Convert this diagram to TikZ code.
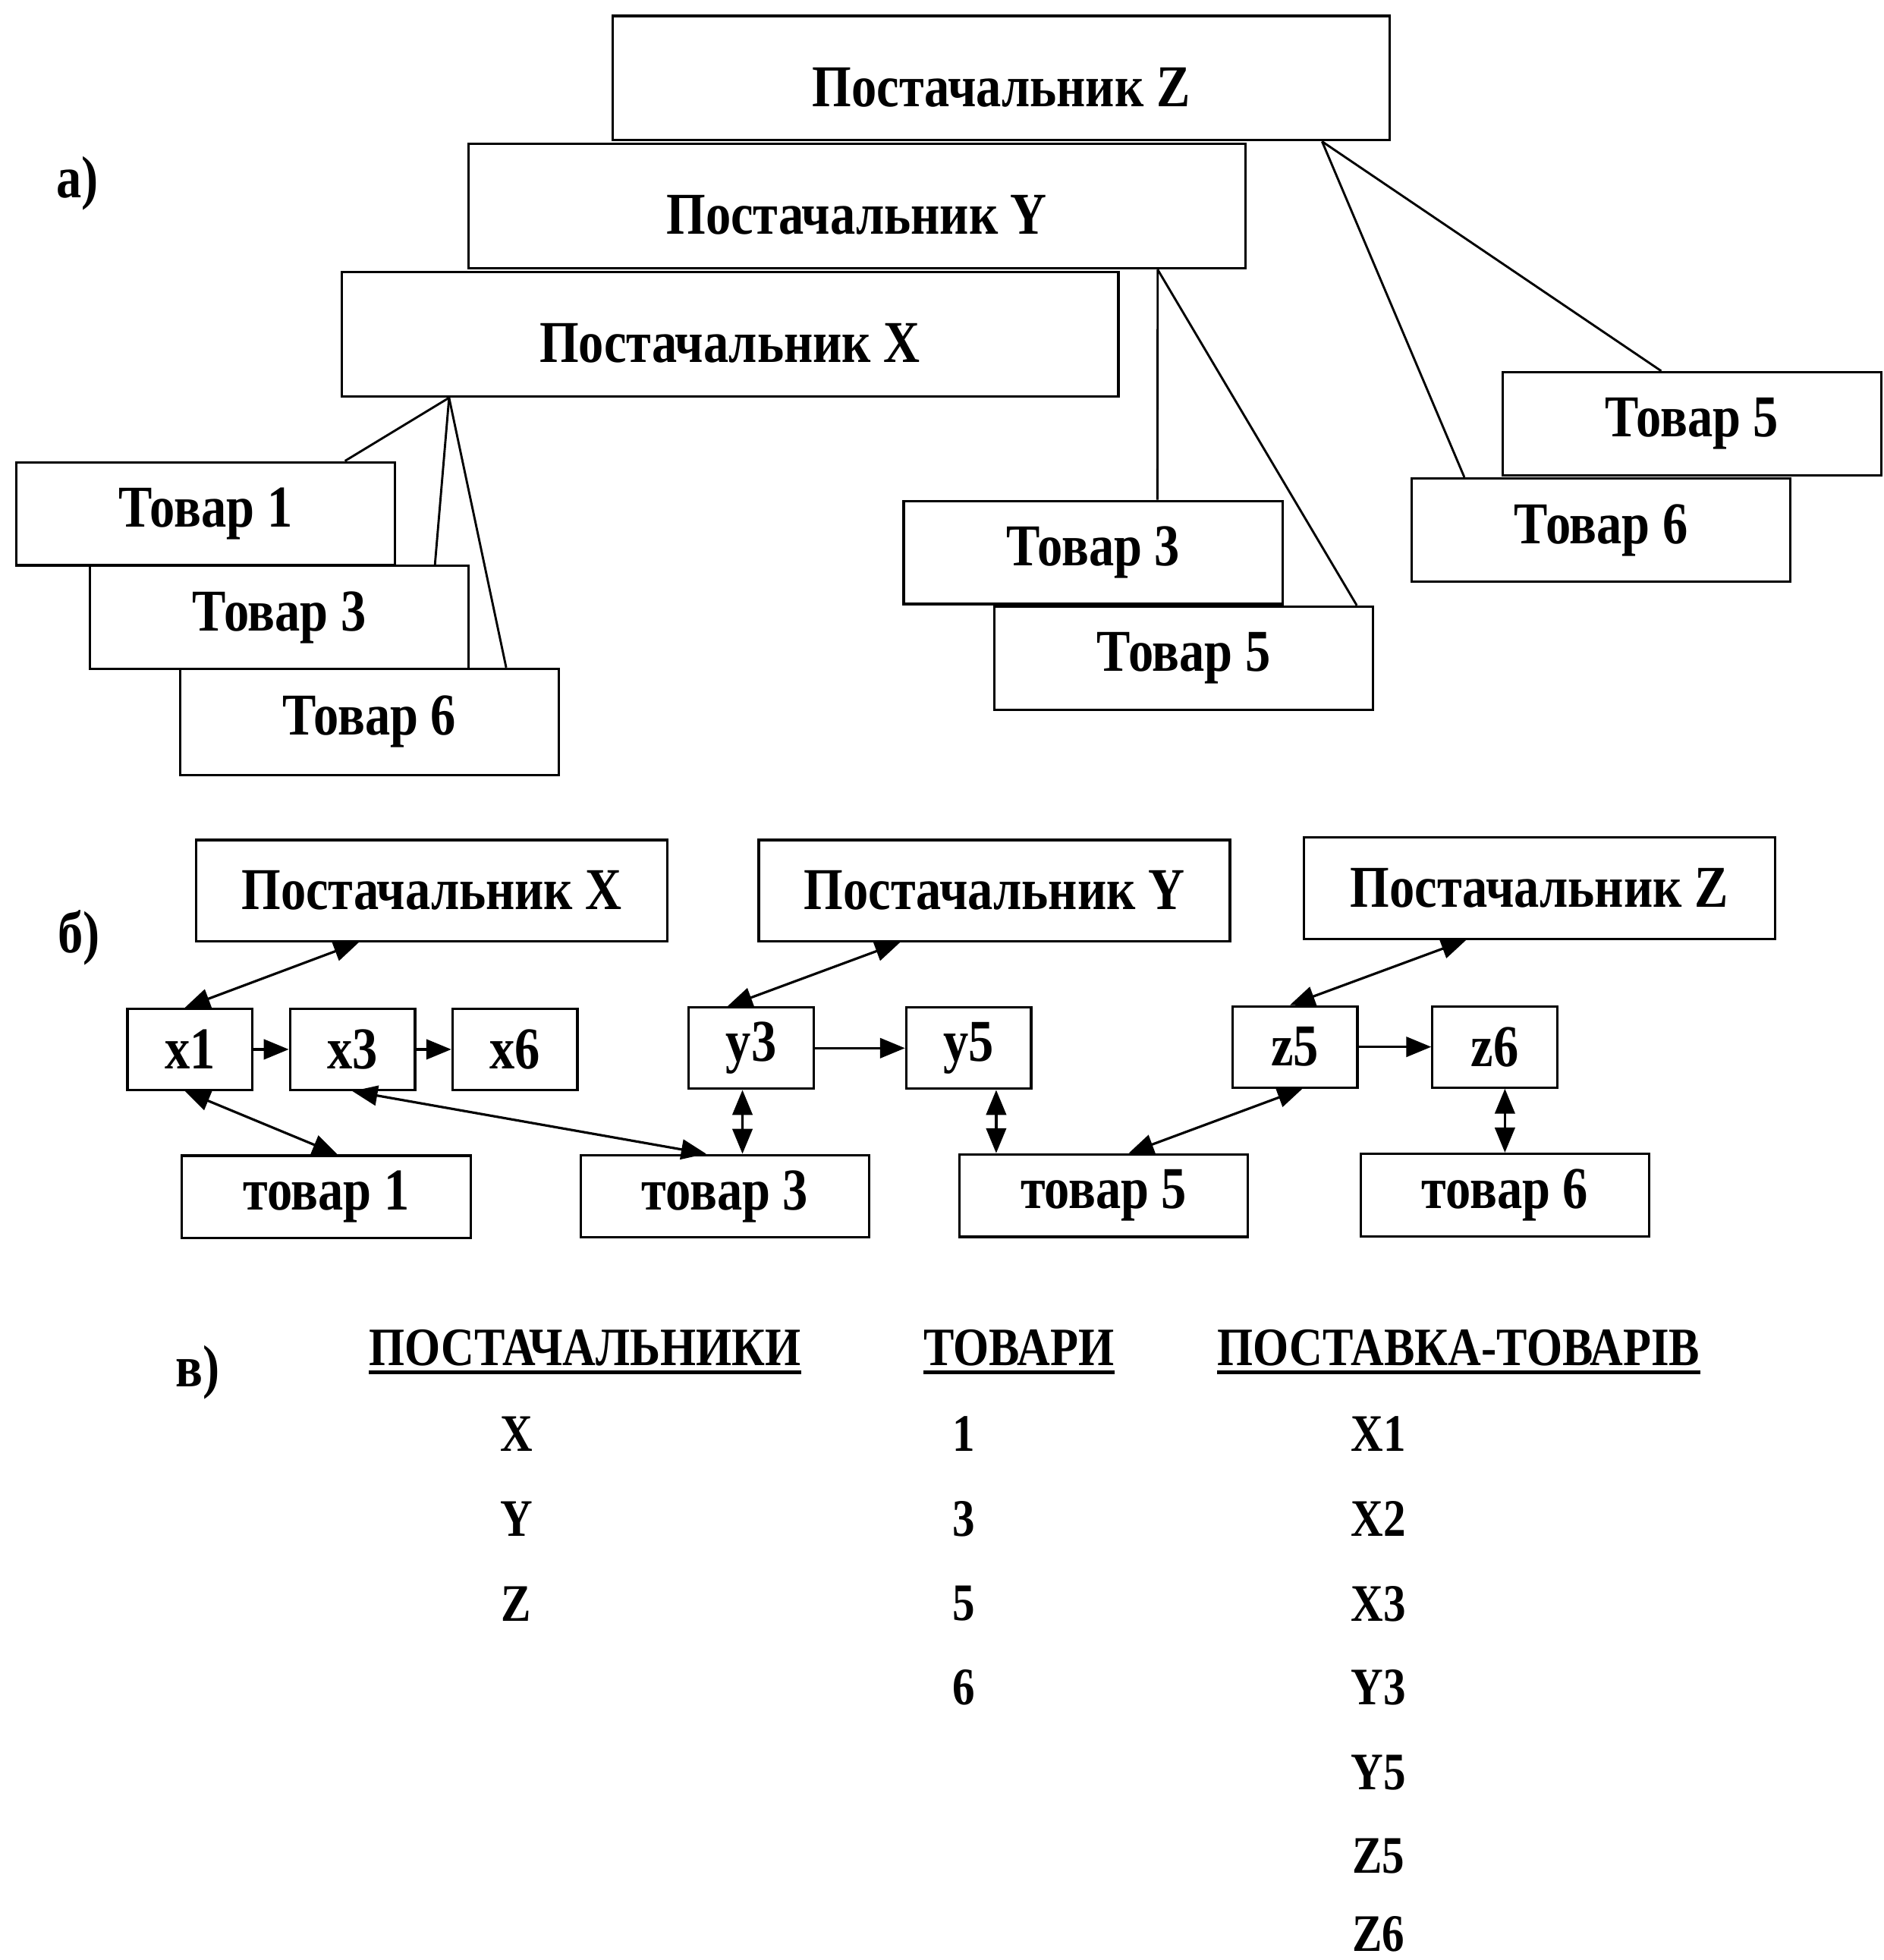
\documentclass[tikz,border=0pt]{standalone}
\usepackage{fontspec}
\setmainfont{Liberation Serif}[FakeStretch=0.85]
\usetikzlibrary{arrows.meta,calc}
\begin{document}
\begin{tikzpicture}[
  box/.style={draw, fill=white, line width=1.1pt, inner sep=0pt, font=\bfseries\fontsize{27}{30}\selectfont},
  bigbox/.style={box, minimum width=12.43cm, minimum height=1.99cm, text height=0.9cm, text depth=0pt},
  goodbox/.style={box, minimum width=6.06cm, minimum height=1.65cm},
  supbox/.style={box, minimum width=7.54cm, minimum height=1.62cm},
  cellbox/.style={box, minimum width=2cm, minimum height=1.3cm},
  itembox/.style={box, minimum width=4.62cm, minimum height=1.32cm},
  link/.style={line width=1pt},
  tip/.style={line width=1.1pt, -{Triangle[length=0.4cm,width=0.32cm]}},
  twoway/.style={line width=1.1pt, {Triangle[length=0.4cm,width=0.32cm]}-{Triangle[length=0.4cm,width=0.32cm]}},
  part/.style={font=\bfseries\fontsize{27}{30}\selectfont},
  head/.style={font=\bfseries\fontsize{24.6}{28}\selectfont, inner sep=0pt},
  cell/.style={font=\bfseries\fontsize{24}{28}\selectfont, inner sep=0pt},
]
\useasboundingbox (0,0) rectangle (30.14,-31.36);

% ---------- а) hierarchical model ----------
\node[part] (la) at (1.24,-2.94) {а)};
\node[bigbox] (aZ) at (16.02,-1.25) {Постачальник Z};
\node[bigbox] (aY) at (13.71,-3.30) {Постачальник Y};
\node[bigbox] (aX) at (11.68,-5.35) {Постачальник X};

\node[goodbox] (xT1) at (3.29,-8.22) {Товар 1};
\node[goodbox] (xT3) at (4.47,-9.88) {Товар 3};
\node[goodbox, minimum height=1.7cm] (xT6) at (5.91,-11.55) {Товар 6};

\node[goodbox] (yT3) at (17.49,-8.84) {Товар 3};
\node[goodbox] (yT5) at (18.94,-10.53) {Товар 5};

\node[goodbox] (zT5) at (27.07,-6.78) {Товар 5};
\node[goodbox] (zT6) at (25.62,-8.48) {Товар 6};

\coordinate (hx) at ($(aX.south west)+(1.74,0)$);
\coordinate (hy) at ($(aY.south east)+(-1.42,0)$);
\coordinate (hz) at ($(aZ.south east)+(-1.10,0)$);

\draw[link] (hx) -- ($(xT1.north east)+(-0.82,0)$);
\draw[link] (hx) -- ($(xT3.north east)+(-0.56,0)$);
\draw[link] (hx) -- ($(xT6.north east)+(-0.86,0)$);
\draw[link] (hy) -- ($(yT3.north east)+(-2.02,0)$);
\draw[link] (hy) -- ($(yT5.north east)+(-0.28,0)$);
\draw[link] (hz) -- ($(zT6.north west)+(0.86,0)$);
\draw[link] (hz) -- ($(zT5.north west)+(2.56,0)$);

% ---------- б) network model ----------
\node[part] (lb) at (1.26,-15.0) {б)};
\node[supbox] (bX) at (6.91,-14.25) {Постачальник X};
\node[supbox] (bY) at (15.91,-14.25) {Постачальник Y};
\node[supbox] (bZ) at (24.63,-14.21) {Постачальник Z};

\node[cellbox] (x1) at (3.04,-16.79) {x1};
\node[cellbox] (x3) at (5.64,-16.79) {x3};
\node[cellbox] (x6) at (8.24,-16.79) {x6};
\node[cellbox] (y3) at (12.02,-16.77) {y3};
\node[cellbox] (y5) at (15.50,-16.77) {y5};
\node[cellbox] (z5) at (20.72,-16.75) {z5};
\node[cellbox] (z6) at (23.92,-16.75) {z6};

\node[itembox] (t1) at (5.22,-19.15) {товар 1};
\node[itembox] (t3) at (11.60,-19.14) {товар 3};
\node[itembox] (t5) at (17.66,-19.13) {товар 5};
\node[itembox] (t6) at (24.08,-19.12) {товар 6};

\draw[twoway] ($(bX.south west)+(2.62,0)$) -- ($(x1.north)+(-0.08,0)$);
\draw[twoway] ($(bY.south west)+(2.28,0)$) -- ($(y3.north)+(-0.38,0)$);
\draw[twoway] ($(bZ.south west)+(2.62,0)$) -- ($(z5.north)+(-0.08,0)$);

\draw[tip] (x1) -- (x3);
\draw[tip] (x3) -- (x6);
\draw[tip] (y3) -- (y5);
\draw[tip] (z5) -- (z6);

\draw[twoway] ($(x1.south)+(-0.08,0)$) -- ($(t1.north)+(0.18,0)$);
\draw[twoway] (x3.south) -- ($(t3.north)+(-0.30,0)$);
\draw[twoway] ($(y3.south)+(-0.14,0)$) -- ($(t3.north)+(0.28,0)$);
\draw[twoway] ($(y5.south)+(0.44,0)$) -- ($(t5.north)+(-1.72,0)$);
\draw[twoway] ($(z5.south)+(0.12,0)$) -- ($(t5.north)+(0.40,0)$);
\draw[twoway] ($(z6.south)+(0.16,0)$) -- (t6.north);

% ---------- в) relational model ----------
\node[part] (lv) at (3.16,-21.96) {в)};
\node[head] (h1) at (9.36,-21.56) {ПОСТАЧАЛЬНИКИ};
\node[head] (h2) at (16.30,-21.56) {ТОВАРИ};
\node[head] (h3) at (23.34,-21.56) {ПОСТАВКА-ТОВАРІВ};
\foreach \h in {h1,h2,h3}
  \draw[line width=2pt] ($(\h.south west)+(0,-0.1)$) -- ($(\h.south east)+(0,-0.1)$);

\node[cell] (s1) at (8.26,-22.94) {X};
\node[cell] (s2) at (8.26,-24.30) {Y};
\node[cell] (s3) at (8.26,-25.66) {Z};

\node[cell] (g1) at (15.42,-22.94) {1};
\node[cell] (g2) at (15.42,-24.30) {3};
\node[cell] (g3) at (15.42,-25.66) {5};
\node[cell] (g4) at (15.42,-27.00) {6};

\node[cell] (p1) at (22.06,-22.94) {X1};
\node[cell] (p2) at (22.06,-24.30) {X2};
\node[cell] (p3) at (22.06,-25.66) {X3};
\node[cell] (p4) at (22.06,-27.00) {Y3};
\node[cell] (p5) at (22.06,-28.36) {Y5};
\node[cell] (p6) at (22.06,-29.70) {Z5};
\node[cell] (p7) at (22.06,-30.95) {Z6};
\end{tikzpicture}
\end{document}
